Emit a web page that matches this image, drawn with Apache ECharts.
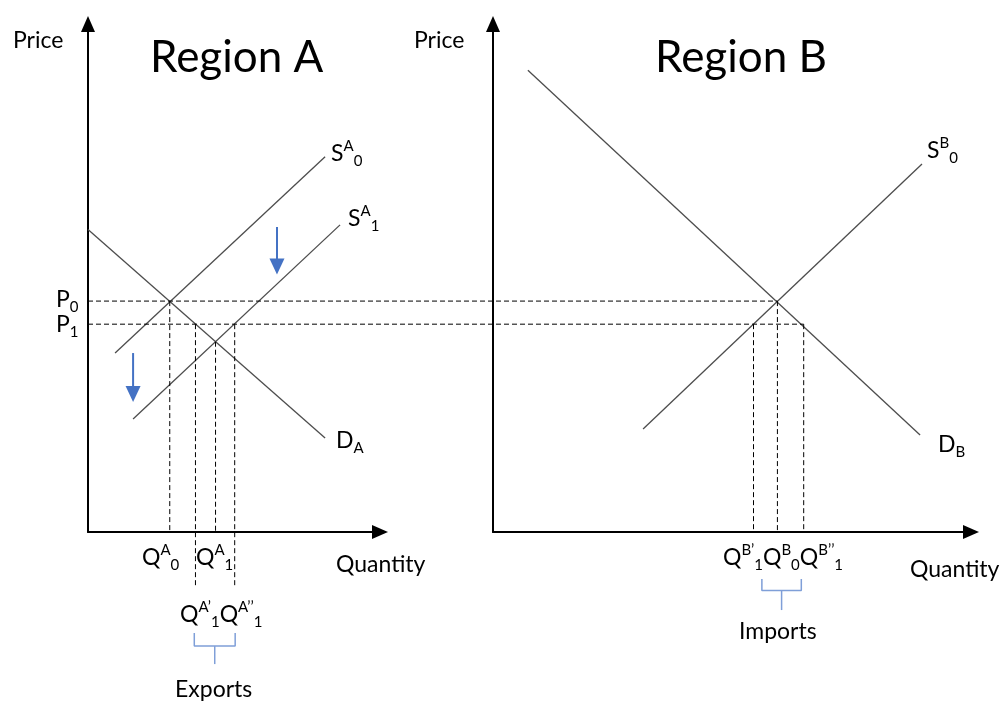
<!DOCTYPE html>
<html>
<head>
<meta charset="utf-8">
<script src="https://cdn.jsdelivr.net/npm/echarts@6/dist/echarts.min.js"></script>
<style>
  html, body { margin: 0; padding: 0; background: #ffffff; }
  #chart { width: 1006px; height: 702px; }
</style>
</head>
<body>
<div id="chart"></div>
<script>
// ---- Market data (quantity, price) in abstract units ----
// Region A: demand and the supply curve before / after the shift
const demandA  = [[0, 13.1], [10.15, 4.07]];
const supplyA0 = [[1.16, 7.75], [10.15, 16.25]];
const supplyA1 = [[1.93, 4.89], [10.79, 13.3]];
// Region B: demand and supply
const demandB  = [[1.46, 20.0], [17.87, 4.2]];
const supplyB0 = [[6.28, 4.46], [17.95, 15.94]];

// Price levels P0, P1
const priceLevels = [10, 9];
// Region A quantities: QA0, QA'1, QA1, QA''1 and the price at QA1
const quantitiesA = [3.5, 4.6, 5.46, 6.28];
const priceAtQA1 = 8.24;
// Region B quantities: QB'1, QB0, QB''1
const quantitiesB = [10.9, 11.9, 13.0];

// Supply-shift arrows: [x, yStart, yEnd]
const shiftArrows = [[1.93, 7.75, 5.98], [8.09, 13.21, 11.5]];

// Axis extents
const xMaxA = 12.5, xMaxB = 20, yMax = 22;

// Layout of the two panels (pixels)
const gridA = { left: 88, top: 24, width: 292, bottom: 170 };
const gridB = { left: 493, top: 24, width: 478, bottom: 170 };
// Span from panel A's price axis to panel B's right edge, in panel B quantity units,
// used for the price lines that run across both panels
const gridSpan = { left: gridA.left, top: 24, width: gridB.left + gridB.width - gridA.left, bottom: 170 };
const spanMinX = -(gridB.left - gridA.left) / gridB.width * xMaxB;

// Depth the export drop-lines reach below the axis
const dropBelow = -2.38;

const FONT = 'Lato, "Open Sans", sans-serif';
const CURVE = { color: '#4d4d4d', width: 1.3 };
const DASH = { color: '#000000', width: 1, type: [5, 3] };
const BLUE = '#4472C4';
const BRACE = { color: '#7f9fd8', width: 1.5 };

function seg(gi, data, lineStyle, extra) {
  return Object.assign({
    type: 'line', xAxisIndex: gi, yAxisIndex: gi, data: data,
    symbol: 'none', lineStyle: lineStyle, silent: true,
    animation: false, clip: false, z: 3
  }, extra || {});
}

function axisPair(gi, xMin, xMax, visible) {
  const axisLine = {
    show: visible,
    symbol: ['none', 'triangle'],
    symbolSize: [14, 16],
    lineStyle: { color: '#000', width: 2 }
  };
  const common = {
    gridIndex: gi, type: 'value',
    axisLine: axisLine, axisTick: { show: false },
    axisLabel: { show: false }, splitLine: { show: false }
  };
  return {
    x: Object.assign({}, common, { min: xMin, max: xMax }),
    y: Object.assign({}, common, { min: 0, max: yMax })
  };
}

const axA = axisPair(0, 0, xMaxA, true);
const axB = axisPair(1, 0, xMaxB, true);
const axS = axisPair(2, spanMinX, xMaxB, false);

const series = [];
// Curves
series.push(seg(0, demandA, CURVE));
series.push(seg(0, supplyA0, CURVE));
series.push(seg(0, supplyA1, CURVE));
series.push(seg(1, demandB, CURVE));
series.push(seg(1, supplyB0, CURVE));

// Price lines running from panel A's axis to panel B's curves
series.push(seg(2, [[spanMinX, priceLevels[0]], [quantitiesB[1], priceLevels[0]]], DASH));
series.push(seg(2, [[spanMinX, priceLevels[1]], [quantitiesB[2], priceLevels[1]]], DASH));

// Quantity drop-lines, region A
series.push(seg(0, [[quantitiesA[0], priceLevels[0]], [quantitiesA[0], 0]], DASH));
series.push(seg(0, [[quantitiesA[1], priceLevels[1]], [quantitiesA[1], dropBelow]], DASH));
series.push(seg(0, [[quantitiesA[2], priceAtQA1], [quantitiesA[2], 0]], DASH));
series.push(seg(0, [[quantitiesA[3], priceLevels[1]], [quantitiesA[3], dropBelow]], DASH));

// Quantity drop-lines, region B
series.push(seg(1, [[quantitiesB[0], priceLevels[1]], [quantitiesB[0], 0]], DASH));
series.push(seg(1, [[quantitiesB[1], priceLevels[0]], [quantitiesB[1], 0]], DASH));
series.push(seg(1, [[quantitiesB[2], priceLevels[1]], [quantitiesB[2], 0]], DASH));

// Supply shift arrows
shiftArrows.forEach(function (a) {
  series.push(seg(0, [
    [a[0], a[1]],
    { value: [a[0], a[2]], symbol: 'triangle', symbolSize: [15, 16], symbolRotate: 180 }
  ], { color: BLUE, width: 2 }, { itemStyle: { color: BLUE }, z: 4 }));
});

// Braces marking exports (A) and imports (B)
function brace(gi, x1, x2, yTop, yBot, yTip) {
  const xm = (x1 + x2) / 2;
  series.push(seg(gi, [[x1, yTop], [x1, yBot], [x2, yBot], [x2, yTop]], BRACE));
  series.push(seg(gi, [[xm, yBot], [xm, yTip]], BRACE));
}
brace(0, quantitiesA[1] - 0.05, quantitiesA[3] + 0.02, -4.37, -4.94, -5.72);
brace(1, 11.25, 12.9, -2.04, -2.53, -3.38);

// ---- Text ----
const rich = {
  m:   { fontSize: 23, fontFamily: FONT, fill: '#000', lineHeight: 30 },
  sup: { fontSize: 15, fontFamily: FONT, fill: '#000', lineHeight: 15, verticalAlign: 'top' },
  sub: { fontSize: 15, fontFamily: FONT, fill: '#000', lineHeight: 15, verticalAlign: 'bottom' }
};
function label(x, y, text, size) {
  return {
    type: 'text', x: x, y: y, silent: true, z: 10,
    style: {
      text: text, rich: rich, align: 'left', verticalAlign: 'middle',
      fontSize: size || 23, fontFamily: FONT, fill: '#000'
    }
  };
}
const titles = ['Region A', 'Region B'];
const texts = [
  label(150, 58, titles[0], 44),
  label(655, 58, titles[1], 44),
  label(13, 41, 'Price'),
  label(414, 41, 'Price'),
  label(336, 565, 'Quantity'),
  label(910, 570, 'Quantity'),
  label(56, 300, '{m|P}{sub|0}'),
  label(56, 325, '{m|P}{sub|1}'),
  label(331, 154, '{m|S}{sup|A}{sub|0}'),
  label(348, 219, '{m|S}{sup|A}{sub|1}'),
  label(927, 151, '{m|S}{sup|B}{sub|0}'),
  label(336, 441, '{m|D}{sub|A}'),
  label(938, 445, '{m|D}{sub|B}'),
  label(142, 558, '{m|Q}{sup|A}{sub|0}'),
  label(196, 558, '{m|Q}{sup|A}{sub|1}'),
  label(180, 615, '{m|Q}{sup|A\u2019}{sub|1}{m|Q}{sup|A\u2019\u2019}{sub|1}'),
  label(175, 690, 'Exports'),
  label(723, 558, '{m|Q}{sup|B\u2019}{sub|1}{m|Q}{sup|B}{sub|0}{m|Q}{sup|B\u2019\u2019}{sub|1}'),
  label(739, 632, 'Imports')
];

const chart = echarts.init(document.getElementById('chart'), null, { renderer: 'canvas' });
chart.setOption({
  backgroundColor: '#ffffff',
  animation: false,
  grid: [gridA, gridB, gridSpan],
  xAxis: [axA.x, axB.x, axS.x],
  yAxis: [axA.y, axB.y, axS.y],
  series: series,
  graphic: texts
});
</script>
</body>
</html>
